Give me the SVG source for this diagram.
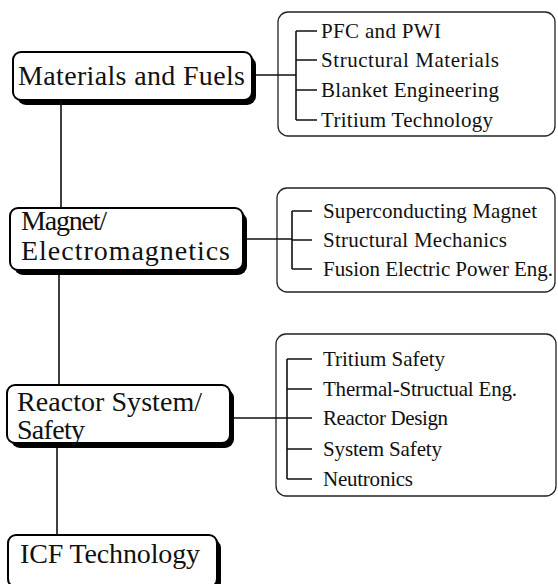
<svg xmlns="http://www.w3.org/2000/svg" width="558" height="584" viewBox="0 0 558 584">
<style>
.bg{fill:#fff}
.shadow{fill:#000}
.main{fill:#fff;stroke:#000;stroke-width:2}
.sub{fill:none;stroke:#222;stroke-width:1.3}
.mt{font-family:"Liberation Serif","Times New Roman",serif;font-size:28px;fill:#111}
.st{font-family:"Liberation Serif","Times New Roman",serif;font-size:21px;fill:#111}
.ln{stroke:#111;stroke-width:1.6;fill:none}
</style>
<rect class="bg" x="0" y="0" width="558" height="584"/>
<g id="node-materials">
  <rect class="shadow" x="17" y="56" width="239" height="49" rx="9"/>
  <rect class="main" x="13" y="52" width="239" height="48" rx="8"/>
  <text class="mt" x="18" y="85" textLength="227" lengthAdjust="spacing">Materials and Fuels</text>
</g>
<g id="node-magnet">
  <rect class="shadow" x="14" y="212" width="233" height="63" rx="9"/>
  <rect class="main" x="10" y="208" width="233" height="62" rx="8"/>
  <text class="mt" x="21" y="230" textLength="86" lengthAdjust="spacing">Magnet/</text>
  <text class="mt" x="21" y="260" textLength="209" lengthAdjust="spacing">Electromagnetics</text>
</g>
<g id="node-reactor">
  <rect class="shadow" x="11" y="389" width="223" height="59" rx="9"/>
  <rect class="main" x="7" y="385" width="223" height="58" rx="8"/>
  <text class="mt" x="17" y="411" textLength="185" lengthAdjust="spacing">Reactor System/</text>
  <text class="mt" x="17" y="439" textLength="68" lengthAdjust="spacing">Safety</text>
</g>
<g id="node-icf">
  <rect class="shadow" x="12" y="539" width="209" height="52" rx="9"/>
  <rect class="main" x="8" y="535" width="209" height="52" rx="8"/>
  <text class="mt" x="20" y="563" textLength="180" lengthAdjust="spacing">ICF Technology</text>
</g>
<g id="node-materials-topics">
  <rect class="sub" x="278" y="12" width="277" height="124" rx="10"/>
  <text class="st" x="321" y="38" textLength="120" lengthAdjust="spacing">PFC and PWI</text>
  <text class="st" x="321" y="67" textLength="178" lengthAdjust="spacing">Structural Materials</text>
  <text class="st" x="321" y="97" textLength="178" lengthAdjust="spacing">Blanket Engineering</text>
  <text class="st" x="321" y="127" textLength="172" lengthAdjust="spacing">Tritium Technology</text>
</g>
<g id="node-magnet-topics">
  <rect class="sub" x="277" y="188" width="278" height="104" rx="10"/>
  <text class="st" x="323" y="218" textLength="214" lengthAdjust="spacing">Superconducting Magnet</text>
  <text class="st" x="323" y="247" textLength="184" lengthAdjust="spacing">Structural Mechanics</text>
  <text class="st" x="323" y="276" textLength="230" lengthAdjust="spacing">Fusion Electric Power Eng.</text>
</g>
<g id="node-reactor-topics">
  <rect class="sub" x="276" y="334" width="280" height="162" rx="10"/>
  <text class="st" x="323" y="366" textLength="122" lengthAdjust="spacing">Tritium Safety</text>
  <text class="st" x="323" y="396" textLength="194" lengthAdjust="spacing">Thermal-Structual Eng.</text>
  <text class="st" x="323" y="425" textLength="125" lengthAdjust="spacing">Reactor Design</text>
  <text class="st" x="323" y="456" textLength="119" lengthAdjust="spacing">System Safety</text>
  <text class="st" x="323" y="486" textLength="90" lengthAdjust="spacing">Neutronics</text>
</g>
<g id="connectors">
  <path class="ln" d="M61 100 V208 M59 275 V385 M57 448 V535"/>
  <path class="ln" d="M256 75 H296 M296 31 V120 M296 31 H317 M296 60 H317 M296 90 H317 M296 120 H317"/>
  <path class="ln" d="M247 239 H292 M292 211 V269 M292 211 H312 M292 240 H312 M292 269 H312"/>
  <path class="ln" d="M234 418 H287 M287 359 V479 M287 359 H312 M287 389 H312 M287 418 H312 M287 449 H312 M287 479 H312"/>
</g>
</svg>
